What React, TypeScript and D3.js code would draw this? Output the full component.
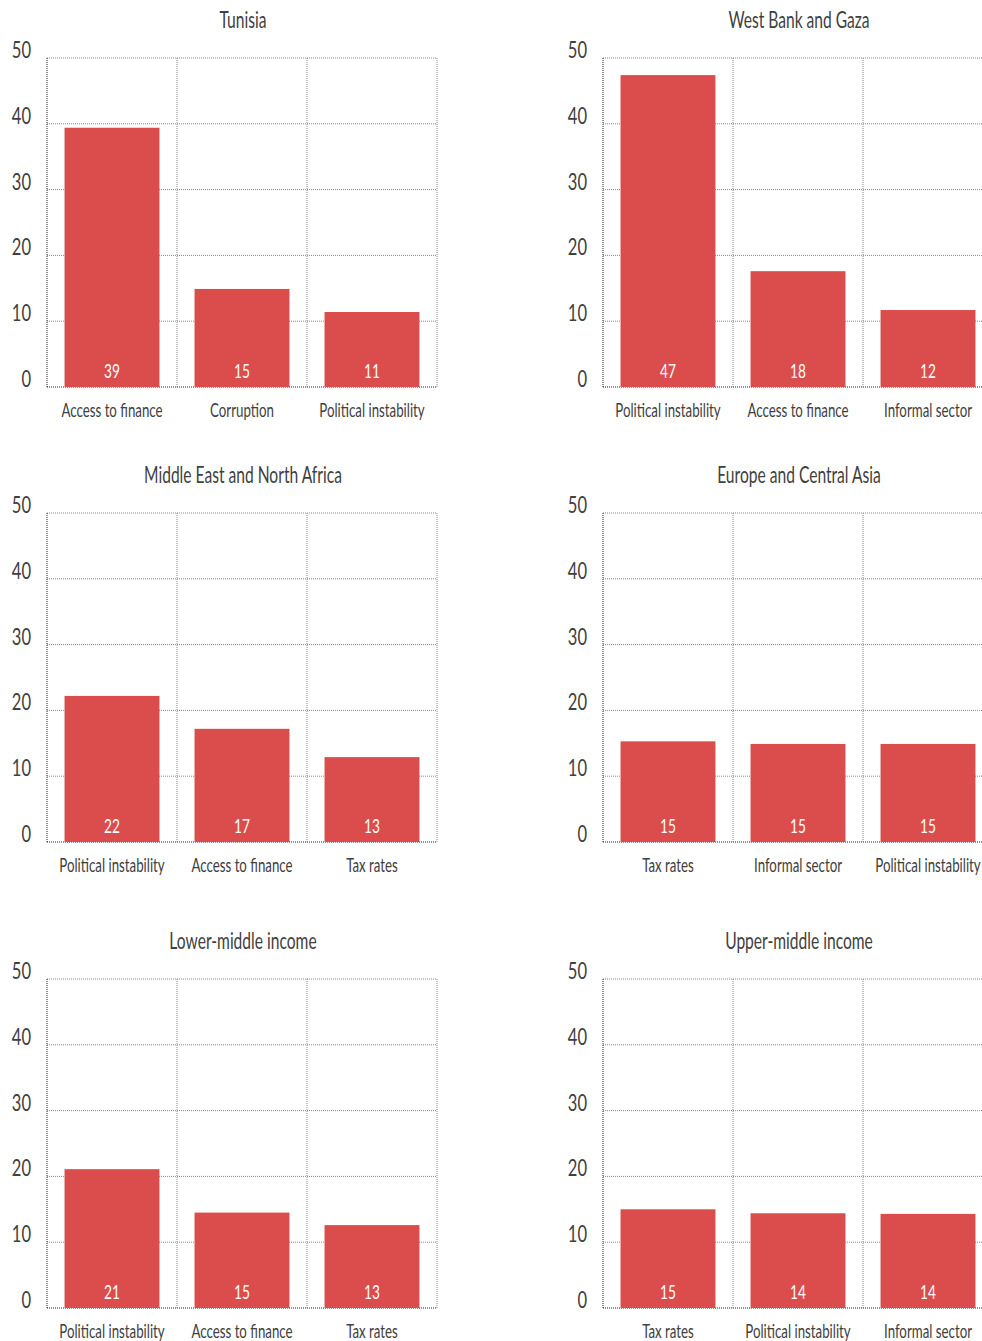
import React, { useEffect } from "react";
import * as d3 from "d3";

// panel titles, categories and values
const titles = [
  "Tunisia",
  "West Bank and Gaza",
  "Middle East and North Africa",
  "Europe and Central Asia",
  "Lower-middle income",
  "Upper-middle income",
];
const tunisiaCats = ["Access to finance", "Corruption", "Political instability"];
const tunisiaVals = [39.4, 14.9, 11.4];
const wbgCats = ["Political instability", "Access to finance", "Informal sector"];
const wbgVals = [47.4, 17.6, 11.7];
const menaCats = ["Political instability", "Access to finance", "Tax rates"];
const menaVals = [22.2, 17.2, 12.9];
const ecaCats = ["Tax rates", "Informal sector", "Political instability"];
const ecaVals = [15.3, 14.9, 14.9];
const lmiCats = ["Political instability", "Access to finance", "Tax rates"];
const lmiVals = [21.1, 14.5, 12.6];
const umiCats = ["Tax rates", "Political instability", "Informal sector"];
const umiVals = [15.0, 14.4, 14.3];
const yTicks = [0, 10, 20, 30, 40, 50];

const panels = [
  { title: titles[0], cats: tunisiaCats, vals: tunisiaVals },
  { title: titles[1], cats: wbgCats, vals: wbgVals },
  { title: titles[2], cats: menaCats, vals: menaVals },
  { title: titles[3], cats: ecaCats, vals: ecaVals },
  { title: titles[4], cats: lmiCats, vals: lmiVals },
  { title: titles[5], cats: umiCats, vals: umiVals },
];

const FONT = "Lato, 'DejaVu Sans', sans-serif";
const BAR = "#DB4D4D";
const TEXT = "#404040";

const W = 982;
const H = 1341;
const colX = [47, 603];
const rowY = [58, 513, 979];
const plotW = 390;
const plotH = 329;

// condensed-looking text: squeeze horizontally
function CText(props: { x: number; y: number; sx: number; size: number; anchor?: string; fill?: string; children: React.ReactNode }) {
  const { x, y, sx, size, anchor = "middle", fill = TEXT, children } = props;
  return (
    <text transform={`translate(${x},${y}) scale(${sx},1)`} textAnchor={anchor} fontSize={size}
      fontWeight={400} fill={fill} fontFamily={FONT}>
      {children}
    </text>
  );
}

function Panel({ x0, y0, title, cats, vals }: { x0: number; y0: number; title: string; cats: string[]; vals: number[] }) {
  const x = d3.scaleBand<string>().domain(cats).range([0, plotW]).paddingInner(0.27).paddingOuter(0.135);
  const y = d3.scaleLinear().domain([0, 50]).range([plotH, 0]);
  const step = x.step();
  const bounds = d3.range(cats.length + 1).map((i) => i * step);

  return (
    <g transform={`translate(${x0},${y0})`}>
      <CText x={plotW / 2 + 1} y={-30} sx={0.65} size={24}>{title}</CText>
      {/* horizontal grid */}
      {yTicks.map((t) => (
        <line key={"h" + t} x1={0} x2={plotW} y1={y(t)} y2={y(t)}
          stroke={t === 0 ? "#222" : "#888"} strokeWidth={1} strokeDasharray="1,1" />
      ))}
      {/* vertical grid */}
      {bounds.map((b, i) => (
        <line key={"v" + i} x1={b} x2={b} y1={0} y2={plotH}
          stroke={i === 0 ? "#222" : "#888"} strokeWidth={1} strokeDasharray="1,1" />
      ))}
      {yTicks.map((t) => (
        <CText key={"yt" + t} x={-16} y={y(t)} sx={0.72} size={23} anchor="end">{t}</CText>
      ))}
      {cats.map((c, i) => (
        <g key={c}>
          <rect x={x(c)} y={y(vals[i])} width={x.bandwidth()} height={plotH - y(vals[i])} fill={BAR} />
          <CText x={(x(c) ?? 0) + x.bandwidth() / 2} y={plotH - 9} sx={0.72} size={19} fill="#fff">
            {Math.round(vals[i])}
          </CText>
          <CText x={(x(c) ?? 0) + x.bandwidth() / 2} y={plotH + 30} sx={0.7} size={19}>
            {c}
          </CText>
        </g>
      ))}
    </g>
  );
}

export default function App() {
  useEffect(() => {
    document.body.style.margin = "0";
  }, []);
  return (
    <svg width={W} height={H} style={{ display: "block", background: "#fff" }}>
      {panels.map((p, i) => (
        <Panel key={p.title} x0={colX[i % 2]} y0={rowY[Math.floor(i / 2)]} title={p.title} cats={p.cats} vals={p.vals} />
      ))}
    </svg>
  );
}
